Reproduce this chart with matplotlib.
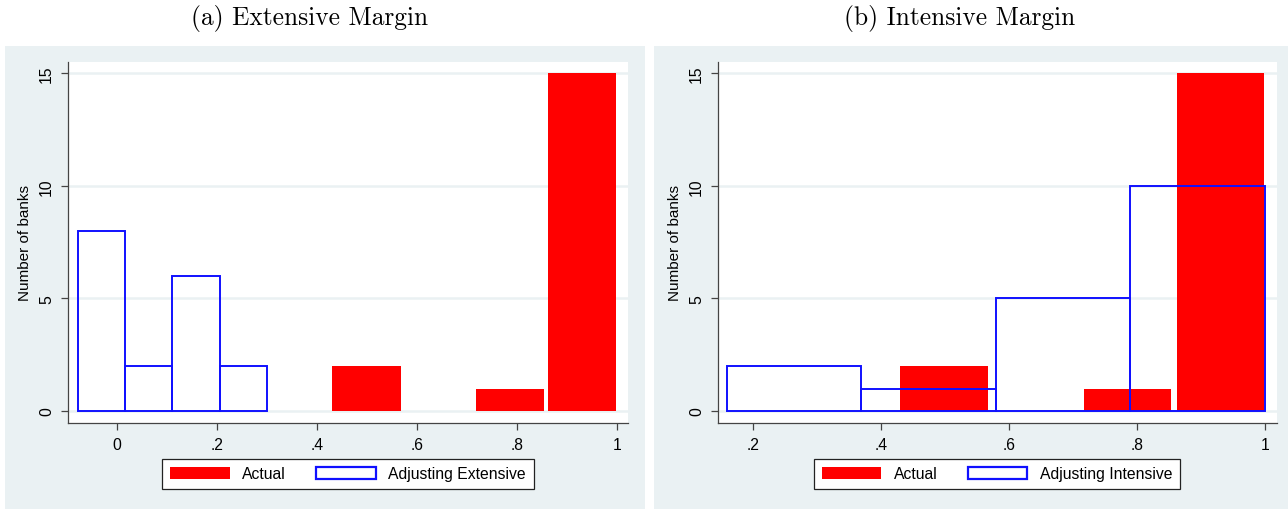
import matplotlib
matplotlib.use("Agg")
import matplotlib.pyplot as plt
from matplotlib.patches import Rectangle, Patch

plt.rcParams['font.family'] = ['Liberation Sans', 'DejaVu Sans']

# ---- data ----
actual_left = [0.43, 0.718, 0.862]
actual_right = [0.568, 0.854, 0.998]
actual_counts = [2, 1, 15]

ext_edges = [-0.078, 0.016, 0.110, 0.206, 0.300]
ext_counts = [8, 2, 6, 2]

int_edges = [0.159, 0.369, 0.580, 0.790, 1.000]
int_counts = [2, 1, 5, 10]

left_xticks = [0, 0.2, 0.4, 0.6, 0.8, 1.0]
left_xlabels = ['0', '.2', '.4', '.6', '.8', '1']
right_xticks = [0.2, 0.4, 0.6, 0.8, 1.0]
right_xlabels = ['.2', '.4', '.6', '.8', '1']
yticks = [0, 5, 10, 15]
titles = ['(a) Extensive Margin', '(b) Intensive Margin']
legend_labels = [['Actual', 'Adjusting Extensive'], ['Actual', 'Adjusting Intensive']]

W, H = 1288, 510
fig = plt.figure(figsize=(W / 100, H / 100), dpi=100)
fig.patch.set_facecolor('white')

BG = '#EAF1F3'
RED = '#FF0000'
BLUE = '#1010FF'
AX = '#444444'


def fx(px):
    return px / W


def fy(py):
    return 1 - py / H


# panel backgrounds
for (x0, x1) in [(5, 645), (654, 1288)]:
    fig.patches.append(Rectangle((fx(x0), 0), fx(x1) - fx(x0), fy(47), transform=fig.transFigure,
                                 facecolor=BG, edgecolor='none', zorder=-10))

axes_px = [(68, 628), (718, 1277)]
xlims = [(-0.098, 1.022), (0.1453, 1.019)]
blue_sets = [(ext_edges, ext_counts), (int_edges, int_counts)]
xt = [(left_xticks, left_xlabels), (right_xticks, right_xlabels)]
title_cx = [310, 960]
leg_center = [(348, 475), (997, 475)]

for i in range(2):
    x0, x1 = axes_px[i]
    ax = fig.add_axes([fx(x0), fy(424), fx(x1) - fx(x0), fy(63) - fy(424)])
    ax.set_zorder(1)
    ax.set_facecolor('white')
    ax.set_xlim(*xlims[i])
    ax.set_ylim(-0.53, 15.49)
    ax.set_axisbelow(True)
    for y in yticks:
        ax.axhline(y, color=BG, lw=1.8, zorder=0)

    widths = [r - l for l, r in zip(actual_left, actual_right)]
    ax.bar(actual_left, actual_counts, width=widths, align='edge', color=RED,
           edgecolor='none', zorder=2)

    edges, counts = blue_sets[i]
    bw = [edges[k + 1] - edges[k] for k in range(len(counts))]
    ax.bar(edges[:-1], counts, width=bw, align='edge', fill=False,
           edgecolor=BLUE, linewidth=1.4, zorder=3)

    for s in ['top', 'right']:
        ax.spines[s].set_visible(False)
    for s in ['left', 'bottom']:
        ax.spines[s].set_color(AX)
        ax.spines[s].set_linewidth(0.9)

    ax.set_xticks(xt[i][0])
    ax.set_xticklabels(xt[i][1])
    ax.set_yticks(yticks)
    ax.set_yticklabels([str(v) for v in yticks], rotation=90, va='center')
    ax.tick_params(axis='both', colors=AX, labelcolor='black', labelsize=11.3,
                   length=5, width=0.9, pad=5)
    ax.set_ylabel('Number of banks', fontsize=11, labelpad=5)

    fig.text(fx(title_cx[i]), fy(19), titles[i], fontfamily='cmr10', fontsize=18.3,
             ha='center', va='center')

    handles = [Patch(facecolor=RED, edgecolor='none'),
               Patch(facecolor='white', edgecolor=BLUE, linewidth=1.6)]
    lx, ly = leg_center[i]
    leg = fig.legend(handles, legend_labels[i], loc='center',
                     bbox_to_anchor=(fx(lx), fy(ly)), bbox_transform=fig.transFigure,
                     ncol=2, fontsize=11.3, frameon=True, fancybox=False,
                     handlelength=3.8, handleheight=0.85, handletextpad=0.8,
                     columnspacing=1.9, borderpad=0.5)
    leg.set_zorder(5)
    fr = leg.get_frame()
    fr.set_edgecolor('#222222')
    fr.set_linewidth(0.9)
    fr.set_facecolor('white')
    fr.set_alpha(1)

fig.savefig('out.png', dpi=100, facecolor='white')
